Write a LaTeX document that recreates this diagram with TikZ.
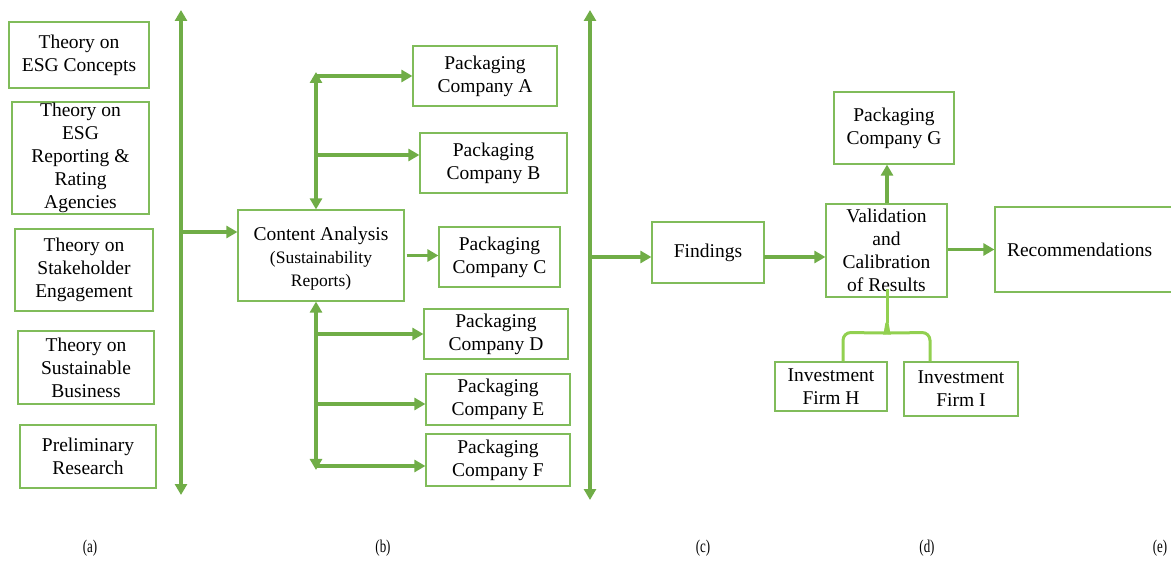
\documentclass[tikz,border=0pt]{standalone}
\usepackage{fontspec}
\setmainfont{Liberation Serif}
\usetikzlibrary{arrows.meta}
\definecolor{boxgreen}{RGB}{128,188,90}
\definecolor{arrgreen}{RGB}{112,173,71}
\definecolor{bracegreen}{RGB}{146,208,80}
\newcommand\slimtxt[1]{\scalebox{0.72}[1]{#1}}
\newcommand\smalltxt{\fontsize{17.5}{22}\selectfont}
\begin{document}
\begin{tikzpicture}[x=1pt,y=-1pt,
  box/.style={draw=boxgreen,line width=1.2pt,inner xsep=2pt,inner ysep=0pt,
    align=center,text=black,font=\fontsize{19.5}{23}\selectfont},
  >={Triangle[length=11pt,width=12pt]},
  arr/.style={draw=arrgreen,line width=3.5pt,->},
  darr/.style={draw=arrgreen,line width=3.5pt,<->},
  brace/.style={draw=bracegreen,line width=3pt},
  lab/.style={font=\fontsize{18}{18}\selectfont,text=black,inner sep=0pt}]
\useasboundingbox (0,0) rectangle (1171,561);

% (a) theory boxes
\node[box,minimum width=140pt,minimum height=66pt]  (t1) at (79,55)    {Theory on\\ESG Concepts};
\node[box,minimum width=137pt,minimum height=112pt] (t2) at (80.5,158) {Theory on\\ESG\\Reporting \&\\Rating\\Agencies};
\node[box,minimum width=138pt,minimum height=82pt]  (t3) at (84,270)   {Theory on\\Stakeholder\\Engagement};
\node[box,minimum width=136pt,minimum height=73pt]  (t4) at (86,367.5) {Theory on\\Sustainable\\Business};
\node[box,minimum width=136pt,minimum height=63pt]  (t5) at (88,456.5) {Preliminary\\Research};

% (b) content analysis and packaging companies
\node[box,minimum width=166pt,minimum height=91pt] (ca) at (321,255.5) {};
\node[align=center,text=black,inner sep=0pt,font=\fontsize{19.5}{23}\selectfont] (cat) at (321,259)
  {Content Analysis\\{\smalltxt (Sustainability}\\{\smalltxt Reports)}};
\node[box,minimum width=144pt,minimum height=60pt] (pA) at (485,76)    {Packaging\\Company A};
\node[box,minimum width=147pt,minimum height=60pt] (pB) at (493.5,163) {Packaging\\Company B};
\node[box,minimum width=121pt,minimum height=60pt] (pC) at (499.5,257) {Packaging\\Company C};
\node[box,minimum width=144pt,minimum height=50pt] (pD) at (496,334)   {Packaging\\Company D};
\node[box,minimum width=144pt,minimum height=51pt] (pE) at (498,399.5) {Packaging\\Company E};
\node[box,minimum width=144pt,minimum height=52pt] (pF) at (498,460)   {Packaging\\Company F};

% (c)-(e)
\node[box,minimum width=112pt,minimum height=61pt] (fi) at (708,252.5)  {Findings};
\node[box,minimum width=121pt,minimum height=93pt] (va) at (886.5,250.5) {Validation\\and\\Calibration\\of Results};
\node[box,minimum width=120pt,minimum height=72pt] (pG) at (894,128)    {Packaging\\Company G};
\node[box,text width=156pt,align=left,inner xsep=12pt,minimum height=85pt] (rec) at (1085,249.5) {Recommendations};
\node[box,minimum width=112pt,minimum height=49pt] (iH) at (831,386.5) {Investment\\Firm H};
\node[box,minimum width=114pt,minimum height=54pt] (iI) at (961,389)   {Investment\\Firm I};

% junction points
\coordinate (b1t) at (181,10);
\coordinate (b1b) at (181,495);
\coordinate (b1m) at (181,232);
\coordinate (b2t) at (590,10);
\coordinate (b2b) at (590,500);
\coordinate (b2m) at (590,257);
\coordinate (ut)  at (316,72);
\coordinate (uA)  at (316,76);
\coordinate (uB)  at (316,155);
\coordinate (lb)  at (316,470);
\coordinate (lD)  at (316,334);
\coordinate (lE)  at (316,404);
\coordinate (lF)  at (316,466);
\coordinate (fm)  at (764,257);
\coordinate (vb)  at (887,289);
\coordinate (bc)  at (887,323);

% main bars
\draw[darr] (b1b) -- (b1t);
\draw[arr] (b1m) -- (b1m -| ca.west);
\draw[darr] (b2b) -- (b2t);
\draw[arr] (b2m) -- (b2m -| fi.west);

% upper tree
\draw[darr] (ut) -- (ut |- ca.north);
\draw[arr] (uA) -- (uA -| pA.west);
\draw[arr] (uB) -- (uB -| pB.west);
\draw[arr] ([xshift=2pt]ca.east) -- (ca.east -| pC.west);

% lower tree
\draw[darr] (lb) -- (lb |- ca.south);
\draw[arr] (lD) -- (lD -| pD.west);
\draw[arr] (lE) -- (lE -| pE.west);
\draw[arr] (lF) -- (lF -| pF.west);

% findings to validation and onward
\draw[arr] (fm) -- (fm -| va.west);
\draw[arr] (va.north -| bc) -- (pG.south -| bc);
\draw[arr] (va.east |- rec.west) -- (rec.west);

% brace joining the investment firms to validation
\draw[brace,rounded corners=8pt] ([xshift=12pt]iH.north) -- ++(0,-29) -- ([xshift=-8pt,yshift=-10pt]bc) [sharp corners] .. controls ([xshift=-2pt,yshift=-10pt]bc) .. (bc);
\draw[brace,rounded corners=8pt] ([xshift=-31pt]iI.north) -- ++(0,-29) -- ([xshift=8pt,yshift=-10pt]bc) [sharp corners] .. controls ([xshift=2pt,yshift=-10pt]bc) .. (bc);
\draw[brace] (bc) -- (vb);

% stage labels
\node[lab] (la) at (90,548)   {\slimtxt{(a)}};
\node[lab] (lbl) at (383,548) {\slimtxt{(b)}};
\node[lab] (lc) at (703,548)  {\slimtxt{(c)}};
\node[lab] (ld) at (927,548)  {\slimtxt{(d)}};
\node[lab] (le) at (1160,548) {\slimtxt{(e)}};
\end{tikzpicture}
\end{document}
